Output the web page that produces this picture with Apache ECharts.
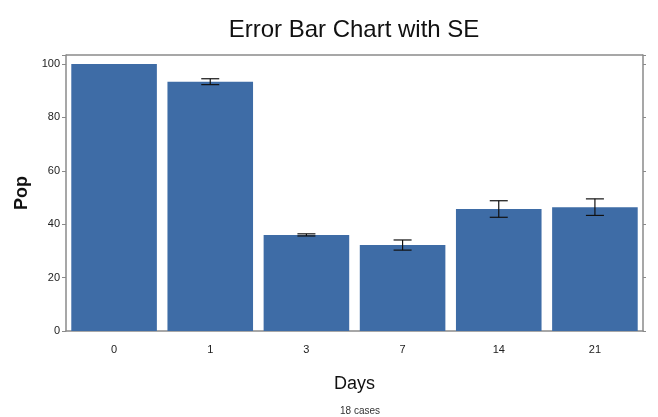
<!DOCTYPE html>
<html>
<head>
<meta charset="utf-8">
<style>
  html, body { margin: 0; padding: 0; background: #ffffff; }
  #chart { width: 658px; height: 417px; }
</style>
<script src="https://cdn.jsdelivr.net/npm/echarts@6/dist/echarts.min.js"></script>
</head>
<body>
<div id="chart"></div>
<script>
// Mean population per day, with standard error
const days = ['0', '1', '3', '7', '14', '21'];
const popMean = [100, 93.4, 36.0, 32.2, 45.7, 46.4];
const popSE = [0, 1.1, 0.4, 1.9, 3.1, 3.1];
const yTicks = [0, 20, 40, 60, 80, 100];

const sans = '"Liberation Sans", Arial, sans-serif';
const axisGray = '#8a8a8a';

const errorData = days.map((d, i) => [i, popMean[i] - popSE[i], popMean[i] + popSE[i]]);

const chart = echarts.init(document.getElementById('chart'), null, { renderer: 'canvas' });

chart.setOption({
  animation: false,
  backgroundColor: '#ffffff',
  title: [
    {
      text: 'Error Bar Chart with SE',
      left: 349, top: 13, textAlign: 'center',
      textStyle: { fontFamily: sans, fontSize: 24, fontWeight: 'normal', color: '#111111' }
    },
    {
      text: '18 cases',
      left: 355, top: 401, textAlign: 'center',
      textStyle: { fontFamily: sans, fontSize: 10, fontWeight: 'normal', color: '#333333' }
    }
  ],
  grid: { left: 66, right: 15, top: 55, bottom: 86 },
  xAxis: {
    type: 'category',
    data: days,
    name: 'Days',
    nameLocation: 'middle',
    nameGap: 44,
    nameTextStyle: { fontFamily: sans, fontSize: 18, color: '#111111' },
    axisLine: { lineStyle: { color: axisGray, width: 1.5 } },
    axisTick: { show: false },
    axisLabel: { fontFamily: sans, fontSize: 11, color: '#222222', margin: 13 }
  },
  yAxis: [
    {
      type: 'value',
      min: 0, max: 103.4, interval: 20,
      name: 'Pop',
      nameLocation: 'middle',
      nameGap: 31,
      nameTextStyle: { fontFamily: sans, fontSize: 18, fontWeight: 'bold', color: '#111111' },
      axisLine: { show: true, lineStyle: { color: axisGray, width: 1.5 } },
      axisTick: { show: true, length: 4, lineStyle: { color: axisGray } },
      axisLabel: {
        fontFamily: sans, fontSize: 11, color: '#222222', margin: 6,
        formatter: v => (yTicks.indexOf(v) >= 0 ? String(v) : '')
      },
      splitLine: { show: false }
    },
    {
      type: 'value',
      position: 'right',
      min: 0, max: 103.4, interval: 20,
      axisLine: { show: true, lineStyle: { color: axisGray, width: 1.5 } },
      axisTick: { show: true, length: 3, lineStyle: { color: axisGray } },
      axisLabel: { show: false },
      splitLine: { show: false }
    }
  ],
  graphic: [
    {
      // top frame edge of the plot area
      type: 'line',
      shape: { x1: 66, y1: 55, x2: 643, y2: 55 },
      style: { stroke: axisGray, lineWidth: 1.5 },
      silent: true
    }
  ],
  series: [
    {
      type: 'bar',
      data: popMean,
      barCategoryGap: '11%',
      itemStyle: { color: '#3e6ca6' },
      z: 2
    },
    {
      type: 'custom',
      data: errorData,
      z: 5,
      renderItem: function (params, api) {
        const x = api.value(0);
        if (api.value(2) - api.value(1) <= 0) {
          return null; // no spread, nothing to draw
        }
        const lo = api.coord([x, api.value(1)]);
        const hi = api.coord([x, api.value(2)]);
        const half = 9;
        const style = { stroke: '#111111', lineWidth: 1.2 };
        return {
          type: 'group',
          children: [
            { type: 'line', shape: { x1: hi[0], y1: hi[1], x2: lo[0], y2: lo[1] }, style: style },
            { type: 'line', shape: { x1: hi[0] - half, y1: hi[1], x2: hi[0] + half, y2: hi[1] }, style: style },
            { type: 'line', shape: { x1: lo[0] - half, y1: lo[1], x2: lo[0] + half, y2: lo[1] }, style: style }
          ]
        };
      }
    }
  ]
});
</script>
</body>
</html>
